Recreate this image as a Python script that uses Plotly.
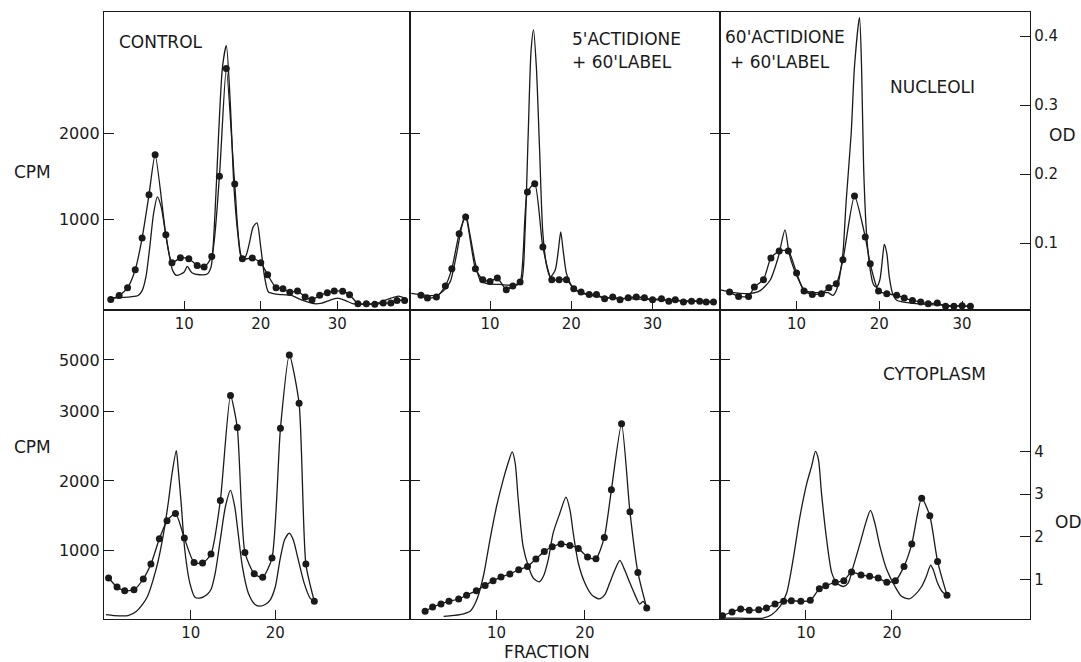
import numpy as np
import plotly.graph_objects as go

# ---------------- data ----------------
# Top row: nucleoli  (CPM dots, OD solid curve)
tl_dot_x = [0.4,1.5,2.6,3.6,4.5,5.4,6.2,7.6,8.4,9.5,10.6,11.7,12.6,13.6,14.6,15.5,16.6,17.6,18.9,20.0,
            20.9,22.0,22.9,23.8,24.8,25.8,26.7,27.7,28.7,29.6,30.7,31.6,32.7,33.8,34.9,36.0,37.0,37.8,38.8]
tl_cpm = [80,126,214,422,788,1288,1750,826,503,561,549,472,453,576,1500,2743,1411,549,558,504,
          365,215,204,162,177,108,77,127,158,177,173,135,31,31,23,38,38,69,69]
tl_od_x = [0.3,3,4,4.5,5,5.5,6,6.5,7,7.5,8,8.5,9,10,10.4,11,12,13,13.5,14,14.5,15,15.5,16,16.5,17,17.5,
           18,18.5,19,19.5,20,20.5,21,22,24,25,26,27,28,29,30,31,32,33,35,36,37,38,39]
tl_od = [0.020,0.022,0.024,0.031,0.051,0.094,0.143,0.167,0.152,0.118,0.085,0.060,0.053,0.058,0.066,0.057,
         0.054,0.055,0.065,0.138,0.259,0.355,0.386,0.307,0.181,0.114,0.077,0.080,0.099,0.123,0.129,0.094,
         0.051,0.029,0.026,0.024,0.019,0.015,0.012,0.013,0.017,0.020,0.017,0.012,0.011,0.012,0.016,0.020,0.023,0.019]

tm_dot_x = [1.5,2.3,3.4,4.5,5.3,6.2,7.0,8.2,9.1,10.0,10.9,12.0,12.8,13.7,14.6,15.5,16.5,17.6,18.5,19.4,
            20.3,21.2,22.2,23.1,24.1,25.1,26.0,27.0,28.0,29.0,30.0,31.1,32.0,32.8,33.8,34.8,35.8,36.6,37.5]
tm_cpm = [127,96,108,235,435,838,1031,435,308,288,327,192,235,281,1319,1415,685,308,308,308,
          204,165,138,138,88,108,77,100,108,100,77,88,58,77,50,58,58,50,50]
tm_od_x = [0.3,3.4,4.3,5.1,5.9,6.5,7.0,7.5,8.2,8.8,9.6,11.2,13.3,13.9,14.3,14.7,15.05,15.35,15.7,16.1,
           16.5,17.0,17.4,18.0,18.4,18.7,19.0,19.4,19.9,20.3,21.1,23.5,27.7,31.8,37.5]
tm_od = [0.027,0.024,0.031,0.044,0.085,0.123,0.142,0.114,0.070,0.046,0.041,0.040,0.039,0.046,0.114,0.259,
         0.379,0.409,0.355,0.234,0.114,0.065,0.051,0.060,0.089,0.116,0.089,0.056,0.041,0.034,0.028,0.022,
         0.019,0.017,0.015]

tr_dot_x = [1.9,3.0,4.2,4.9,6.0,6.9,7.9,9.0,10.0,10.9,11.9,13.0,13.9,14.8,15.6,17.0,18.3,18.9,19.9,20.9,
            22.1,23.0,24.0,25.0,25.9,27.0,28.0,29.0,30.0,31.0]
tr_cpm = [165,115,115,223,308,558,638,638,385,177,138,146,215,262,538,1273,800,492,177,146,
          127,96,69,50,31,38,2,2,6,2]
tr_od_x = [0.8,2.4,4.4,5.6,6.8,7.8,8.6,9.1,9.6,10.2,11.0,12.4,13.8,14.4,14.8,15.2,15.6,16.0,16.6,17.0,
           17.6,17.85,18.1,18.45,18.85,19.25,19.65,20.05,20.4,20.6,20.9,21.2,21.6,22.1,24.5,31.0]
tr_od = [0.032,0.028,0.027,0.031,0.046,0.080,0.119,0.085,0.065,0.048,0.031,0.028,0.028,0.024,0.031,0.051,
         0.085,0.162,0.259,0.356,0.427,0.356,0.210,0.114,0.065,0.041,0.036,0.046,0.080,0.098,0.085,0.051,
         0.027,0.017,0.012,0.008]

# Bottom row: cytoplasm
bl_dot_x = [0.3,1.3,2.2,3.3,4.4,5.3,6.3,7.2,8.2,9.25,10.4,11.4,12.4,13.5,14.7,15.5,16.4,17.5,18.5,19.6,
            20.6,21.65,22.8,23.6,24.6]
bl_cpm = [602,472,420,434,588,803,1168,1427,1532,1177,827,818,947,1719,3620,2770,971,664,612,890,
          2760,5190,3320,803,266]
bl_od_x = [0.0,0.9,2.6,3.6,4.8,6.0,6.8,7.4,7.8,8.3,8.5,8.9,9.3,9.9,10.5,11.1,11.9,12.4,12.9,13.5,14.1,
           14.7,15.2,15.6,16.1,16.8,17.6,18.2,18.8,19.4,20.0,20.55,21.1,21.65,22.1,22.7,23.4,24.1,24.6]
bl_od = [0.18,0.16,0.16,0.26,0.57,1.31,2.09,2.87,3.49,4.02,3.65,2.72,1.70,0.92,0.59,0.57,0.65,0.77,1.16,
         1.94,2.71,3.09,2.71,2.09,1.31,0.69,0.42,0.38,0.42,0.53,0.84,1.47,1.94,2.09,1.94,1.47,0.92,0.57,0.49]

bm_dot_x = [1.9,2.75,3.7,4.6,5.7,6.6,7.7,8.7,9.6,10.5,11.5,12.5,13.5,14.45,15.4,16.3,17.3,18.3,19.25,20.3,
            21.25,22.2,23.0,24.15,25.1,26.0,27.0]
bm_cpm = [122,185,228,266,300,353,420,496,564,616,659,722,770,875,986,1053,1091,1072,1029,904,
          880,1187,1873,2823,1556,683,170]
bm_od_x = [4.0,5.85,7.0,7.75,8.5,9.25,10.0,10.75,11.3,11.77,12.1,12.45,13.0,13.6,14.15,14.83,15.3,15.85,
           16.4,17.17,17.85,18.3,18.68,19.25,20.0,20.75,21.6,22.26,22.8,23.4,23.96,24.5,25.1,25.66,26.2,26.6,27.0]
bm_od = [0.14,0.18,0.26,0.53,1.08,1.94,2.72,3.34,3.73,3.99,3.73,2.87,1.78,1.31,1.04,0.95,1.08,1.47,2.09,
         2.56,2.93,2.64,2.09,1.39,0.92,0.65,0.55,0.65,0.92,1.23,1.45,1.23,0.92,0.65,0.43,0.49,0.34]

br_dot_x = [0.3,1.4,2.4,3.4,4.5,5.4,6.4,7.4,8.3,9.4,10.5,11.55,12.3,13.4,14.4,15.3,16.4,17.4,18.4,19.4,
            20.4,21.4,22.3,23.45,24.4,25.3,26.4]
br_cpm = [60,113,156,137,146,170,228,266,276,266,281,448,492,540,564,688,645,626,602,540,
          564,770,1091,1753,1499,842,353]
br_od_x = [0.2,2.3,5.0,6.0,7.0,7.75,8.5,9.3,10.1,10.65,11.1,11.45,11.8,12.4,13.0,13.6,14.35,14.9,15.5,
           16.3,16.95,17.5,18.0,18.6,19.4,20.35,21.1,22.0,22.7,23.45,24.0,24.5,24.8,25.3,25.8,26.4]
br_od = [0.10,0.10,0.10,0.18,0.38,0.69,1.47,2.48,3.26,3.65,4.00,3.81,3.03,1.94,1.16,0.92,0.84,0.92,1.31,
         1.86,2.33,2.62,2.33,1.78,1.23,0.84,0.61,0.55,0.65,0.84,1.08,1.34,1.23,0.92,0.73,0.63]

# axis tick labels
top_cpm_ticks = [1000, 2000]
bot_cpm_ticks = [1000, 2000, 3000, 5000]
top_od_ticks = [0.1, 0.2, 0.3, 0.4]
top_od_text = ["0.1", "0.2", "0.3", "0.4"]
bot_od_ticks = [1, 2, 3, 4]
top_frac_ticks = [10, 20, 30]
bot_frac_ticks = [10, 20]

# bottom-row CPM axis is drawn broken above 3000 (3000 -> 5000 compressed)
BREAK_CPM = [0, 3000, 5000, 7000]
BREAK_POS = [0, 3000, 3743, 4486]


def bot_scale(v):
    return np.interp(v, BREAK_CPM, BREAK_POS)


# ---------------- figure ----------------
W, H = 1081, 662
ML, MR, MT, MB = 104, 51, 12, 43
PW, PH = W - ML - MR, H - MT - MB
INK = "#1a1a1a"
FONT = "DejaVu Sans"


def fx(px):
    return (px - ML) / PW


def fy(py):
    return (H - MB - py) / PH


xdom = [[0, fx(410)], [fx(410), fx(720)], [fx(720), 1]]
ydom_top = [fy(310), 1]
ydom_bot = [0, fy(310)]

xranges = [[-0.48, 39.5], [0.15, 38.3], [0.75, 38.2], [-0.24, 35.9], [0.19, 35.3], [0.0, 36.05]]
top_cpm_range = [-42, 3396]
top_od_range = [0.0029, 0.4348]
bot_cpm_range = [12, 4463]
bot_od_range = [0.08, 7.31]

panels = [
    (tl_dot_x, tl_cpm, tl_od_x, tl_od, "top"),
    (tm_dot_x, tm_cpm, tm_od_x, tm_od, "top"),
    (tr_dot_x, tr_cpm, tr_od_x, tr_od, "top"),
    (bl_dot_x, bl_cpm, bl_od_x, bl_od, "bot"),
    (bm_dot_x, bm_cpm, bm_od_x, bm_od, "bot"),
    (br_dot_x, br_cpm, br_od_x, br_od, "bot"),
]

fig = go.Figure()
layout = {}
for i, (dx, dc, ox, od, row) in enumerate(panels):
    n = i + 1
    col = i % 3
    xa, ya, yo = f"x{n}", f"y{n}", f"y{n + 6}"
    cpm_vals = dc if row == "top" else bot_scale(dc)
    fig.add_trace(go.Scatter(x=ox, y=od, xaxis=xa, yaxis=yo, mode="lines",
                             line=dict(color=INK, width=1.3, shape="spline", smoothing=0.7),
                             hoverinfo="skip", showlegend=False))
    fig.add_trace(go.Scatter(x=dx, y=cpm_vals, xaxis=xa, yaxis=ya, mode="lines+markers",
                             line=dict(color=INK, width=1.3, shape="spline", smoothing=0.6),
                             marker=dict(color=INK, size=7),
                             hoverinfo="skip", showlegend=False))

    ticks_x = top_frac_ticks if row == "top" else bot_frac_ticks
    layout[f"xaxis{n}"] = dict(
        domain=xdom[col], anchor=ya, range=xranges[i],
        tickvals=ticks_x, ticks="inside", ticklen=9, tickwidth=1.2, tickcolor=INK,
        showline=True, linecolor=INK, linewidth=1.3, mirror=True,
        showgrid=False, zeroline=False,
        tickfont=dict(family=FONT, size=15, color=INK),
    )
    if row == "top":
        ytv, ytt, yr = top_cpm_ticks, [str(t) for t in top_cpm_ticks], top_cpm_range
        otv, ott, orr = top_od_ticks, top_od_text, top_od_range
        ydom = ydom_top
    else:
        ytv = list(bot_scale(bot_cpm_ticks))
        ytt = [str(t) for t in bot_cpm_ticks]
        yr = bot_cpm_range
        otv, ott, orr = bot_od_ticks, [str(t) for t in bot_od_ticks], bot_od_range
        ydom = ydom_bot
    layout[f"yaxis{n}"] = dict(
        domain=ydom, anchor=xa, range=yr, tickvals=ytv, ticktext=ytt,
        ticks="inside", ticklen=10, tickwidth=1.2, tickcolor=INK,
        showticklabels=(col == 0),
        showline=True, linecolor=INK, linewidth=1.3,
        mirror=("ticks" if col < 2 else False),
        showgrid=False, zeroline=False,
        tickfont=dict(family=FONT, size=16, color=INK),
    )
    right = (col == 2)
    layout[f"yaxis{n + 6}"] = dict(
        overlaying=ya, anchor=xa, side="right", range=orr,
        tickvals=otv if right else [], ticktext=ott if right else [],
        ticks="inside" if right else "", ticklen=10, tickwidth=1.2, tickcolor=INK,
        showticklabels=right, showline=right, linecolor=INK, linewidth=1.3,
        showgrid=False, zeroline=False,
        tickfont=dict(family=FONT, size=15, color=INK),
    )


def ann(text, px, py, size=17, xanchor="center"):
    return dict(text=text, x=fx(px), y=fy(py), xref="paper", yref="paper",
                showarrow=False, xanchor=xanchor, yanchor="middle",
                font=dict(family=FONT, size=size, color=INK))


annotations = [
    ann("CONTROL", 161, 42),
    ann("5'ACTIDIONE", 570, 39, xanchor="left"),
    ann("+ 60'LABEL", 570, 62, xanchor="left"),
    ann("60'ACTIDIONE", 723, 37, xanchor="left"),
    ann("+ 60'LABEL", 728, 62, xanchor="left"),
    ann("NUCLEOLI", 932, 87),
    ann("CYTOPLASM", 934, 374),
    ann("CPM", 32, 172),
    ann("CPM", 32, 447),
    ann("OD", 1062, 135),
    ann("OD", 1068, 522),
    ann("FRACTION", 547, 652),
]

fig.update_layout(
    width=W, height=H,
    margin=dict(l=ML, r=MR, t=MT, b=MB),
    paper_bgcolor="white", plot_bgcolor="white",
    showlegend=False,
    annotations=annotations,
    **layout,
)

fig.write_html("out.html")
